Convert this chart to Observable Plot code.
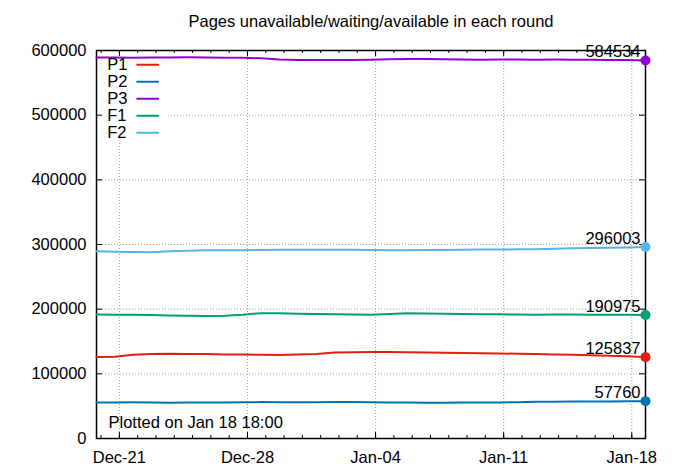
<!DOCTYPE html>
<html><head><meta charset="utf-8">
<script src="https://cdn.jsdelivr.net/npm/d3@7"></script>
<script src="https://cdn.jsdelivr.net/npm/@observablehq/plot@0.6"></script>
<style>body{margin:0;background:#fff} #chart svg{display:block}</style>
</head><body><div id="chart"></div>
<script>
const title = "Pages unavailable/waiting/available in each round";
const caption = "Plotted on Jan 18 18:00";
const startTime = "2020-12-19T18:00Z";
const seriesNames = ["P1", "P2", "P3", "F1", "F2"];
const seriesColors = ["#e51e10", "#0072b2", "#9400d3", "#009e73", "#56b4e9"];
const p1 = [126000,126500,129500,130500,131000,130800,130500,130000,129800,129500,129300,129800,130500,133000,133500,133800,133600,133400,133000,132500,132200,132000,131500,131000,130500,130000,129500,128800,128000,127000,125837];
const p2 = [55500,55800,55900,55600,55400,55500,55700,55800,56000,56300,56100,55900,56200,56500,56300,56000,55800,55600,55400,55300,55500,55700,55600,56200,56800,57000,57100,57300,57400,57600,57760];
const p3 = [589000,589200,588800,589000,589300,589500,589100,588900,588600,588000,586000,585400,585200,585500,585300,585800,586500,587000,586800,586300,586000,585800,586100,585900,585700,585900,585600,585800,585500,585300,584534];
const f1 = [191800,191500,191200,191000,190200,189700,189500,190000,191500,193800,193500,192800,192500,192300,191800,191500,192500,193600,193300,192800,192500,192300,192000,191700,191500,191800,191600,191400,191500,191200,190975];
const f2 = [289600,288800,288300,288200,289500,290500,291000,291200,291300,291500,291800,291700,291900,291800,292000,291500,291300,291200,291400,291600,292000,292300,292400,292500,292700,293500,294200,294500,294800,295300,296003];
const xTickDates = ["2020-12-21", "2020-12-28", "2021-01-04", "2021-01-11", "2021-01-18"];
const yTicks = [0, 100000, 200000, 300000, 400000, 500000, 600000];

const W = 675, H = 472, mL = 96, mR = 30, mT = 50, mB = 34;
const plotW = W - mL - mR, plotH = H - mT - mB;
const FS = 16.5;

const t0 = new Date(startTime);
const times = p1.map((_, i) => d3.utcDay.offset(t0, i));
const seriesValues = [p1, p2, p3, f1, f2];
const rows = seriesNames.flatMap((s, k) => seriesValues[k].map((v, i) => ({series: s, time: times[i], value: v})));
const lastRows = seriesNames.map((s, k) => ({series: s, time: times[times.length - 1], value: seriesValues[k][seriesValues[k].length - 1]}));
const majorX = xTickDates.map(d => new Date(d + "T00:00Z"));
const minorX = d3.utcDay.range(d3.utcDay.ceil(times[0]), times[times.length - 1]);

const lineShape = {draw(ctx, l) { ctx.moveTo(0, 0); ctx.lineTo(0, -l); }};
const boxShape = {draw(ctx) { ctx.rect(0, 0, 70, 91); }};

const legendMarks = seriesNames.flatMap((s, i) => [
  Plot.text([s], {frameAnchor: "top-left", lineAnchor: "middle", dx: 10.7, dy: 14.3 + 17 * i, textAnchor: "start", text: d => d, fontSize: FS, fill: "black"}),
  Plot.vector([s], {frameAnchor: "top-left", dx: 40.7, dy: 14.3 + 17 * i, rotate: 90, length: 21, anchor: "start", shape: lineShape, stroke: seriesColors[i], strokeWidth: 2})
]);

const chart = Plot.plot({
  width: W, height: H,
  marginLeft: mL, marginRight: mR, marginTop: mT, marginBottom: mB,
  style: {fontFamily: "'Liberation Sans', Arial, sans-serif", fontSize: FS + "px", color: "black", background: "white"},
  x: {type: "utc", domain: [times[0], times[times.length - 1]], label: null},
  y: {domain: [0, 600000], label: null},
  color: {domain: seriesNames, range: seriesColors},
  marks: [
    Plot.gridX(majorX, {stroke: "#a0a0a0", strokeOpacity: 1, strokeDasharray: "1,2"}),
    Plot.gridY(yTicks, {stroke: "#a0a0a0", strokeOpacity: 1, strokeDasharray: "1,2"}),
    Plot.vector([0], {frameAnchor: "top-left", dx: 0.5, dy: 0.5, rotate: 0, anchor: "start", shape: boxShape, fill: "white", stroke: "none"}),
    Plot.tickX(minorX, {insetTop: plotH - 3, stroke: "black"}),
    Plot.tickX(minorX, {insetBottom: plotH - 3, stroke: "black"}),
    Plot.tickX(majorX, {insetTop: plotH - 6, stroke: "black"}),
    Plot.tickX(majorX, {insetBottom: plotH - 6, stroke: "black"}),
    Plot.tickY(yTicks, {insetRight: plotW - 6, stroke: "black"}),
    Plot.tickY(yTicks, {insetLeft: plotW - 6, stroke: "black"}),
    Plot.axisX(majorX, {tickSize: 0, tickPadding: 13, tickFormat: d3.utcFormat("%b-%d"), fontSize: FS, label: null}),
    Plot.axisY(yTicks, {tickSize: 0, tickPadding: 10, tickFormat: d => String(d), fontSize: FS, label: null}),
    Plot.frame({stroke: "black", strokeWidth: 1.5}),
    Plot.line(rows, {x: "time", y: "value", z: "series", stroke: "series", strokeWidth: 2}),
    Plot.dot(lastRows, {x: "time", y: "value", fill: "series", r: 5}),
    Plot.text(lastRows, {x: "time", y: "value", text: d => String(d.value), textAnchor: "end", dx: -5, dy: -8.5, fontSize: FS, fill: "black"}),
    ...legendMarks,
    Plot.text([title], {frameAnchor: "top", lineAnchor: "middle", dy: -29, text: d => d, fontSize: FS, fill: "black"}),
    Plot.text([caption], {frameAnchor: "bottom-left", lineAnchor: "middle", dx: 12, dy: -16, textAnchor: "start", text: d => d, fontSize: FS, fill: "black"})
  ]
});
document.getElementById("chart").appendChild(chart);
</script>
</body></html>
